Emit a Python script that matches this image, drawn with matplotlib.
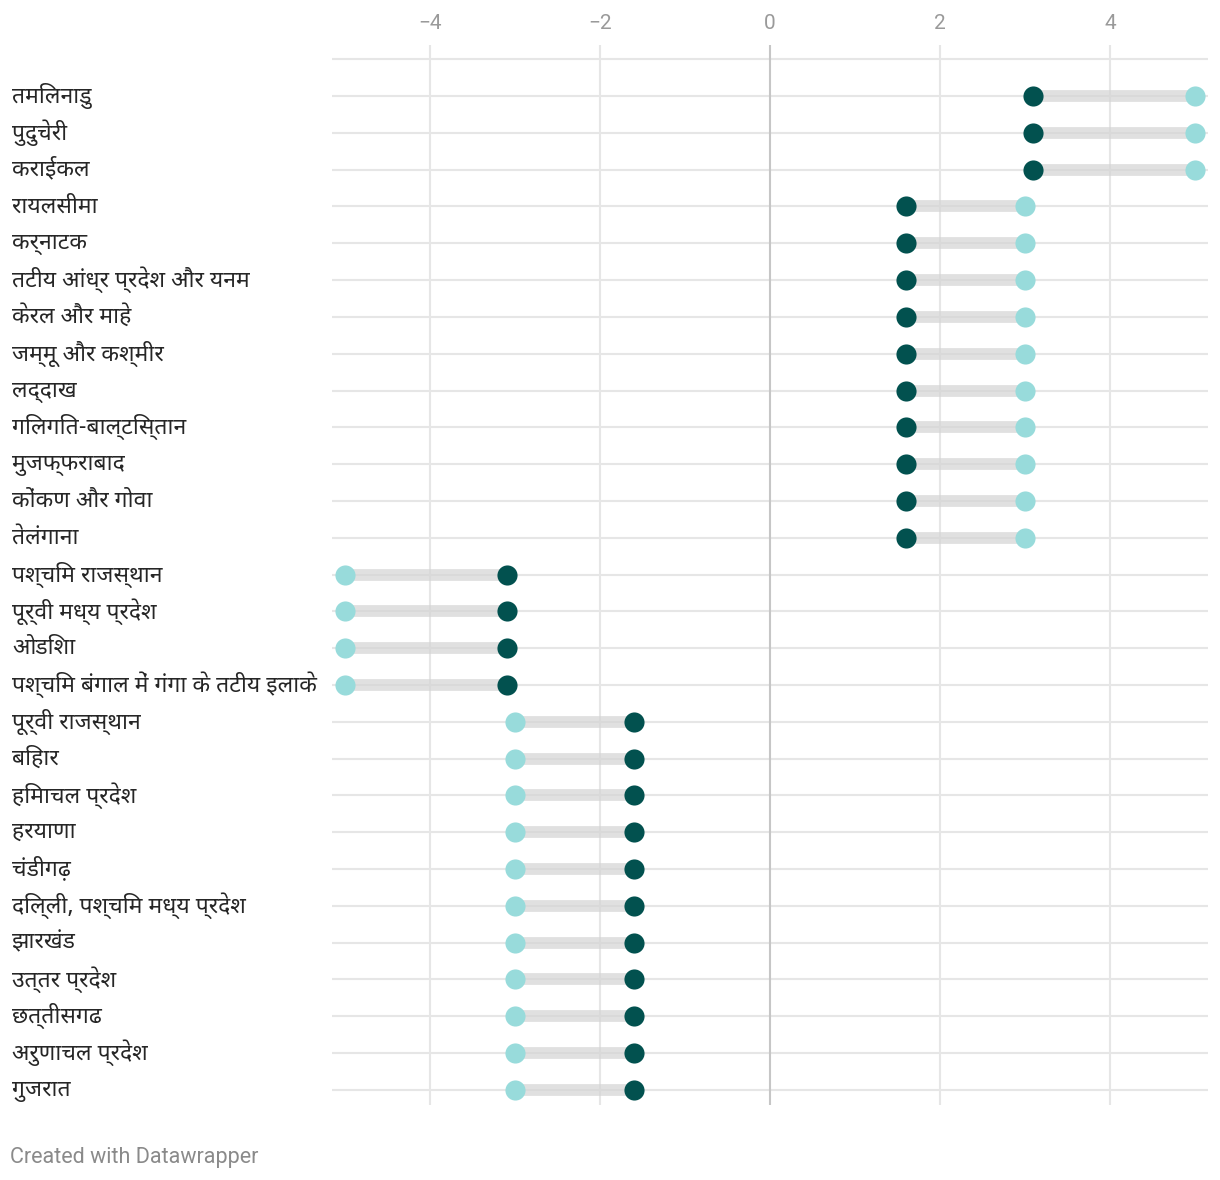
import matplotlib
matplotlib.use("Agg")
import matplotlib.pyplot as plt
from matplotlib.transforms import blended_transform_factory

# row labels, top to bottom
regions = [
    "तमिलनाडु", "पुदुचेरी", "कराईकल", "रायलसीमा", "कर्नाटक",
    "तटीय आंध्र प्रदेश और यनम", "केरल और माहे", "जम्मू और कश्मीर", "लद्दाख",
    "गिलगित-बाल्टिस्तान", "मुजफ्फराबाद", "कोंकण और गोवा", "तेलंगाना",
    "पश्चिम राजस्थान", "पूर्वी मध्य प्रदेश", "ओडिशा",
    "पश्चिम बंगाल में गंगा के तटीय इलाके",
    "पूर्वी राजस्थान", "बिहार", "हिमाचल प्रदेश", "हरयाणा", "चंडीगढ़",
    "दिल्ली, पश्चिम मध्य प्रदेश", "झारखंड", "उत्तर प्रदेश", "छत्तीसगढ",
    "अरुणाचल प्रदेश", "गुजरात",
]
# dark dots
value_dark = [3.1, 3.1, 3.1,
              1.6, 1.6, 1.6, 1.6, 1.6, 1.6, 1.6, 1.6, 1.6, 1.6,
              -3.1, -3.1, -3.1, -3.1,
              -1.6, -1.6, -1.6, -1.6, -1.6, -1.6, -1.6, -1.6, -1.6, -1.6, -1.6]
# light dots
value_light = [5.0, 5.0, 5.0,
               3.0, 3.0, 3.0, 3.0, 3.0, 3.0, 3.0, 3.0, 3.0, 3.0,
               -5.0, -5.0, -5.0, -5.0,
               -3.0, -3.0, -3.0, -3.0, -3.0, -3.0, -3.0, -3.0, -3.0, -3.0, -3.0]
x_ticks = [-4, -2, 0, 2, 4]
x_ticklabels = ["−4", "−2", "0", "2", "4"]

DARK = "#02514f"
LIGHT = "#98dbdb"
GRID = "#e6e6e6"
LABEL_FONT = ["Noto Sans Devanagari", "Hind", "Roboto", "DejaVu Sans"]

plt.rcParams["font.family"] = ["Roboto", "DejaVu Sans"]

W, H = 1220, 1180
fig = plt.figure(figsize=(W / 100, H / 100), dpi=100)
ax = fig.add_axes([332 / W, 1 - 1105 / H, (1208 - 332) / W, (1105 - 45) / H])

n = len(regions)
rows = list(range(n))
ax.set_xlim(-5.153, 5.153)
ax.set_ylim(n - 1 + 0.41, -1.386)

# horizontal row lines (plus one on top)
for r in [-1] + rows:
    ax.axhline(r, color=GRID, lw=1.5, zorder=0)
for t in x_ticks:
    ax.axvline(t, color="#c6c6c6" if t == 0 else GRID, lw=1.5, zorder=0.5)

ax.hlines(rows, value_dark, value_light, color="#d4d4d4", alpha=0.7, lw=8.5,
          zorder=1)
ax.scatter(value_light, rows, s=210, color=LIGHT, zorder=3, linewidths=0)
ax.scatter(value_dark, rows, s=210, color=DARK, zorder=4, linewidths=0)

ax.set_xticks(x_ticks)
ax.set_xticklabels(x_ticklabels)
ax.xaxis.tick_top()
ax.tick_params(axis="x", length=0, pad=8.5, labelsize=15, labelcolor="#9a9a9a")
ax.set_yticks([])
for s in ax.spines.values():
    s.set_visible(False)

# row labels at the left edge of the figure
trans = blended_transform_factory(fig.transFigure, ax.transData)
for r, name in zip(rows, regions):
    ax.text(12 / W, r, name, transform=trans, ha="left", va="center",
            fontsize=16.5, color="#262626", family=LABEL_FONT, clip_on=False)

fig.text(10 / W, 1 - 1157 / H, "Created with Datawrapper", fontsize=15.5,
         color="#8a8a8a", va="center", ha="left")

fig.savefig("out.png", dpi=100, facecolor="white")
